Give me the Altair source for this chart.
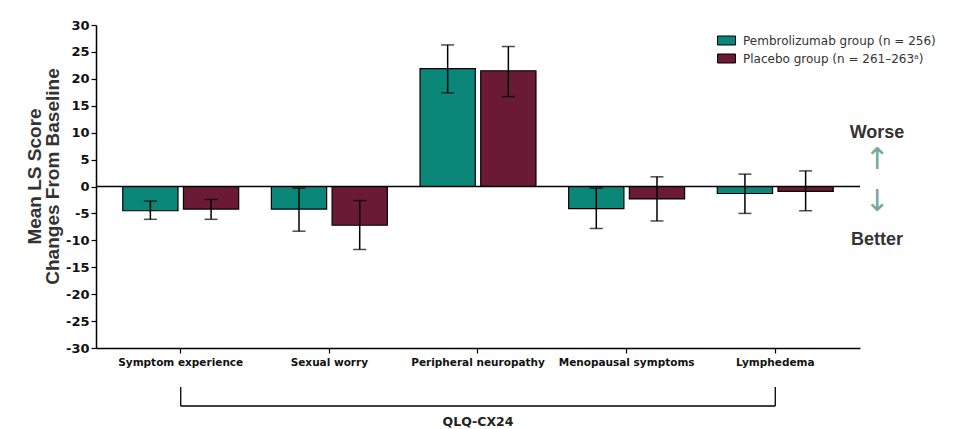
import altair as alt
import pandas as pd

categories = ["Symptom experience", "Sexual worry", "Peripheral neuropathy",
              "Menopausal symptoms", "Lymphedema"]
groups = ["Pembrolizumab group (n = 256)", "Placebo group (n = 261\u2013263\u1d43)"]
pembro_mean = [-4.5, -4.2, 21.9, -4.1, -1.3]
pembro_lo = [-6.1, -8.3, 17.4, -7.8, -5.0]
pembro_hi = [-2.7, -0.3, 26.3, -0.3, 2.3]
placebo_mean = [-4.2, -7.2, 21.5, -2.3, -0.9]
placebo_lo = [-6.1, -11.7, 16.7, -6.4, -4.5]
placebo_hi = [-2.4, -2.6, 26.0, 1.8, 2.9]
y_ticks = list(range(-30, 31, 5))
colors = ["#0b877a", "#6a1a34"]

rows = []
for i, c in enumerate(categories):
    rows.append(dict(category=c, group=groups[0], mean=pembro_mean[i], lo=pembro_lo[i], hi=pembro_hi[i]))
    rows.append(dict(category=c, group=groups[1], mean=placebo_mean[i], lo=placebo_lo[i], hi=placebo_hi[i]))
df = pd.DataFrame(rows)

W, H = 764, 323

xscale = alt.Scale(domain=categories, paddingInner=0.22, paddingOuter=0.18)
xaxis = alt.Axis(title=None, labelAngle=0, labelFontWeight="bold", labelFontSize=10.5,
                 labelColor="#111", labelFont="DejaVu Sans", labelOverlap=False,
                 labelPadding=4, tickSize=5, tickColor="black", domainColor="black",
                 domainWidth=1.5, tickWidth=1.2, labelLimit=250)
X = alt.X("category:N", scale=xscale, sort=categories, axis=xaxis)
XO = alt.XOffset("group:N", sort=groups, scale=alt.Scale(domain=groups, paddingInner=0.09))
yscale = alt.Scale(domain=[-30, 30], nice=False)
yaxis = alt.Axis(values=y_ticks, labelExpr="toString(datum.value)", labelOverlap=False,
                 title=["Mean LS Score", "Changes From Baseline"],
                 titleFontSize=19, titleFontWeight="bold", titleColor="#333",
                 titleFont="Liberation Sans", titleLineHeight=18,
                 titleX=-52, titleY=151, titleAlign="center", titleAngle=270,
                 titleBaseline="bottom",
                 labelFontWeight="bold", labelFontSize=13, labelColor="#111",
                 labelFont="DejaVu Sans", grid=False, tickSize=5, tickColor="black",
                 domainColor="black", domainWidth=1.5, tickWidth=1.2, labelPadding=2)

base = alt.Chart(df)
bars = base.mark_bar(stroke="black", strokeWidth=1.2).encode(
    x=X, xOffset=XO, y=alt.Y("mean:Q", scale=yscale, axis=yaxis),
    color=alt.Color("group:N", sort=groups, scale=alt.Scale(domain=groups, range=colors),
                    legend=alt.Legend(title=None)),
)
err = base.mark_rule(color="black", strokeWidth=1.5).encode(
    x=X, xOffset=XO, y=alt.Y("lo:Q", scale=yscale, axis=yaxis), y2="hi:Q")
cap_lo = base.mark_tick(color="black", size=13, thickness=1.5, orient="horizontal").encode(
    x=X, xOffset=XO, y=alt.Y("lo:Q", scale=yscale, axis=yaxis))
cap_hi = base.mark_tick(color="black", size=13, thickness=1.5, orient="horizontal").encode(
    x=X, xOffset=XO, y=alt.Y("hi:Q", scale=yscale, axis=yaxis))

zero = alt.Chart(pd.DataFrame({"v": [0]})).mark_rule(color="black", strokeWidth=1.5).encode(
    y=alt.Y("v:Q", scale=yscale, axis=yaxis))

brk_df = pd.DataFrame({"category": [categories[0], categories[-1]]})
brk_v = alt.Chart(brk_df).mark_rule(color="black", strokeWidth=1.3).encode(
    x=alt.X("category:N", scale=xscale, sort=categories, axis=xaxis), y=alt.value(362), y2=alt.value(381))
brk_h_df = pd.DataFrame({"category": [categories[0]], "c2": [categories[-1]]})
brk_h = alt.Chart(brk_h_df).mark_rule(color="black", strokeWidth=1.3).encode(
    x=alt.X("category:N", scale=xscale, sort=categories, axis=xaxis), x2="c2:N", y=alt.value(381))
qlq = alt.Chart(pd.DataFrame({"category": [categories[2]], "t": ["QLQ-CX24"]})).mark_text(
    fontWeight="bold", fontSize=12.5, font="DejaVu Sans", color="#222").encode(
    x=alt.X("category:N", scale=xscale, sort=categories, axis=xaxis), y=alt.value(397), text="t:N")

side_df = pd.DataFrame({
    "t": ["Worse", "\u2191", "\u2193", "Better"],
    "py": [108, 135, 177, 215],
    "kind": ["w", "a", "a", "w"],
})
side_words = alt.Chart(side_df[side_df.kind == "w"]).mark_text(
    fontWeight="bold", fontSize=18, font="Liberation Sans", color="#333").encode(
    x=alt.value(781), y=alt.Y("py:Q", scale=None), text="t:N")
side_arrows = alt.Chart(side_df[side_df.kind == "a"]).mark_text(
    fontSize=30, font="DejaVu Sans", fontWeight="normal", color="#7aa69e").encode(
    x=alt.value(781), y=alt.Y("py:Q", scale=None), text="t:N")

chart = alt.layer(bars, zero, err, cap_lo, cap_hi, brk_v, brk_h, qlq, side_words, side_arrows).properties(
    width=W, height=H,
    autosize=alt.AutoSizeParams(type="none"),
    padding={"left": 88, "top": 17, "right": 80, "bottom": 80},
).configure_view(stroke=None).configure_legend(
    orient="none", legendX=621, legendY=6,
    symbolType="M-1,-0.5H1V0.5H-1Z", symbolSize=324, symbolStrokeColor="black",
    symbolStrokeWidth=1, symbolOpacity=1, labelFontSize=12, labelFont="DejaVu Sans",
    labelColor="#333", labelOffset=7, rowPadding=2, labelLimit=300,
)

chart.save("out.html", embed_options={"renderer": "svg", "actions": False})
